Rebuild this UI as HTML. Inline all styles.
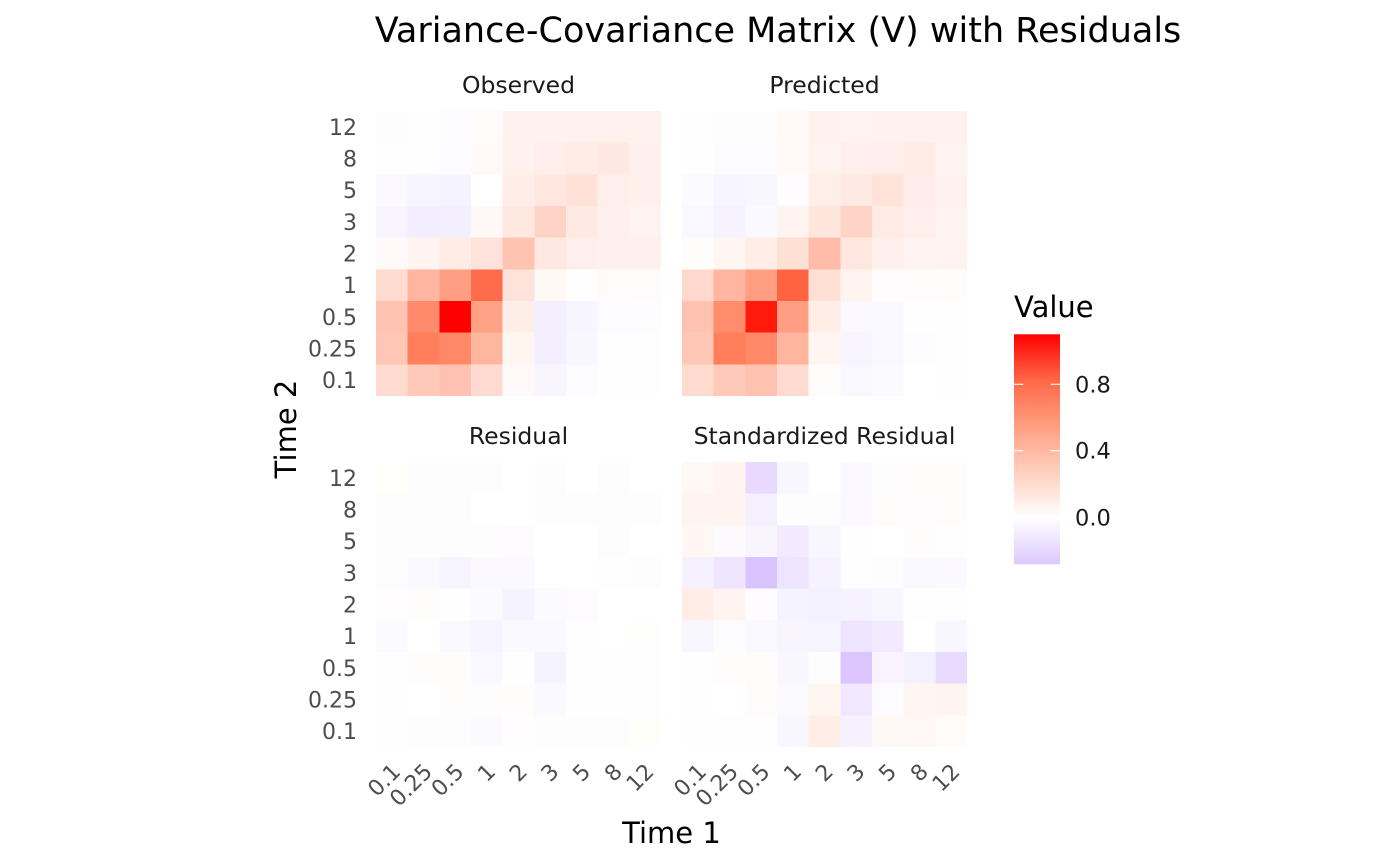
<!DOCTYPE html>
<html><head><meta charset="utf-8"><style>
html,body{margin:0;padding:0;background:#fff;}
svg{display:block;}
text{font-family:"DejaVu Sans","Liberation Sans",sans-serif;}
.yt{font-size:22px;fill:#4D4D4D;text-anchor:end;}
.xt{font-size:22px;fill:#4D4D4D;text-anchor:end;}
.st{font-size:23.5px;fill:#1A1A1A;text-anchor:middle;}
</style></head><body>
<svg width="1400" height="865" viewBox="0 0 1400 865" xmlns="http://www.w3.org/2000/svg">
<defs>
<linearGradient id="lg" x1="0" y1="0" x2="0" y2="1">
<stop offset="0" stop-color="#FF0000"/>
<stop offset="0.199" stop-color="#FF6746"/>
<stop offset="0.398" stop-color="#FF9E81"/>
<stop offset="0.597" stop-color="#FFCFBE"/>
<stop offset="0.796" stop-color="#FFFFFF"/>
<stop offset="0.897" stop-color="#EEE4FF"/>
<stop offset="1" stop-color="#DCC8FF"/>
</linearGradient>
</defs>
<rect width="1400" height="865" fill="#fff"/>
<text x="778" y="42" font-size="35" text-anchor="middle" fill="#000">Variance-Covariance Matrix (V) with Residuals</text>

<!-- Observed -->
<g transform="translate(376,111)" shape-rendering="crispEdges">
<g><rect x="0" width="32" height="32" fill="#FEFDFE"/><rect x="31.67" width="32" height="32" fill="#FEFEFE"/><rect x="63.33" width="32" height="32" fill="#FCFCFF"/><rect x="95" width="32" height="32" fill="#FFFBFA"/><rect x="126.67" width="32" height="32" fill="#FFF2EE"/><rect x="158.33" width="32" height="32" fill="#FFF2EE"/><rect x="190" width="32" height="32" fill="#FFF1ED"/><rect x="221.67" width="32" height="32" fill="#FFF1EC"/><rect x="253.33" width="31.67" height="32" fill="#FFF1EC"/></g>
<g transform="translate(0,31.67)"><rect x="0" width="32" height="32" fill="#FEFDFF"/><rect x="31.67" width="32" height="32" fill="#FEFEFE"/><rect x="63.33" width="32" height="32" fill="#FCFBFF"/><rect x="95" width="32" height="32" fill="#FFFAF9"/><rect x="126.67" width="32" height="32" fill="#FFF1EC"/><rect x="158.33" width="32" height="32" fill="#FFEEEA"/><rect x="190" width="32" height="32" fill="#FFECE6"/><rect x="221.67" width="32" height="32" fill="#FFE8E1"/><rect x="253.33" width="31.67" height="32" fill="#FFF0EB"/></g>
<g transform="translate(0,63.33)"><rect x="0" width="32" height="32" fill="#FBF9FF"/><rect x="31.67" width="32" height="32" fill="#F6F4FF"/><rect x="63.33" width="32" height="32" fill="#F5F3FF"/><rect x="95" width="32" height="32" fill="#FFFFFF"/><rect x="126.67" width="32" height="32" fill="#FFEDE7"/><rect x="158.33" width="32" height="32" fill="#FFE7E0"/><rect x="190" width="32" height="32" fill="#FFE1D8"/><rect x="221.67" width="32" height="32" fill="#FFEFEA"/><rect x="253.33" width="31.67" height="32" fill="#FFF0EB"/></g>
<g transform="translate(0,95)"><rect x="0" width="32" height="32" fill="#F7F4FF"/><rect x="31.67" width="32" height="32" fill="#F2EEFF"/><rect x="63.33" width="32" height="32" fill="#F3EFFF"/><rect x="95" width="32" height="32" fill="#FFF8F5"/><rect x="126.67" width="32" height="32" fill="#FFE8E0"/><rect x="158.33" width="32" height="32" fill="#FED3C5"/><rect x="190" width="32" height="32" fill="#FFEAE3"/><rect x="221.67" width="32" height="32" fill="#FFF0EC"/><rect x="253.33" width="31.67" height="32" fill="#FFF3EF"/></g>
<g transform="translate(0,126.67)"><rect x="0" width="32" height="32" fill="#FFFAF9"/><rect x="31.67" width="32" height="32" fill="#FFF4EF"/><rect x="63.33" width="32" height="32" fill="#FFECE5"/><rect x="95" width="32" height="32" fill="#FFE3DA"/><rect x="126.67" width="32" height="32" fill="#FFC3B1"/><rect x="158.33" width="32" height="32" fill="#FFE8E1"/><rect x="190" width="32" height="32" fill="#FFEFEB"/><rect x="221.67" width="32" height="32" fill="#FFF0EC"/><rect x="253.33" width="31.67" height="32" fill="#FFF0EC"/></g>
<g transform="translate(0,158.33)"><rect x="0" width="32" height="32" fill="#FFDBD0"/><rect x="31.67" width="32" height="32" fill="#FFB59F"/><rect x="63.33" width="32" height="32" fill="#FF9E82"/><rect x="95" width="32" height="32" fill="#FF6B4B"/><rect x="126.67" width="32" height="32" fill="#FFE2D9"/><rect x="158.33" width="32" height="32" fill="#FFF9F6"/><rect x="190" width="32" height="32" fill="#FEFEFF"/><rect x="221.67" width="32" height="32" fill="#FFFBFA"/><rect x="253.33" width="31.67" height="32" fill="#FFFBFA"/></g>
<g transform="translate(0,190)"><rect x="0" width="32" height="32" fill="#FFC3B1"/><rect x="31.67" width="32" height="32" fill="#FF8B6C"/><rect x="63.33" width="32" height="32" fill="#FF0000"/><rect x="95" width="32" height="32" fill="#FFA185"/><rect x="126.67" width="32" height="32" fill="#FFEEE8"/><rect x="158.33" width="32" height="32" fill="#F3EFFF"/><rect x="190" width="32" height="32" fill="#F7F5FF"/><rect x="221.67" width="32" height="32" fill="#FCFBFF"/><rect x="253.33" width="31.67" height="32" fill="#FDFCFF"/></g>
<g transform="translate(0,221.67)"><rect x="0" width="32" height="32" fill="#FFC5B5"/><rect x="31.67" width="32" height="32" fill="#FF7E5C"/><rect x="63.33" width="32" height="32" fill="#FF8868"/><rect x="95" width="32" height="32" fill="#FFB69F"/><rect x="126.67" width="32" height="32" fill="#FFF6F1"/><rect x="158.33" width="32" height="32" fill="#F3EFFF"/><rect x="190" width="32" height="32" fill="#F8F6FF"/><rect x="221.67" width="32" height="32" fill="#FEFEFE"/><rect x="253.33" width="31.67" height="32" fill="#FEFEFE"/></g>
<g transform="translate(0,253.33)"><rect x="0" width="32" height="31.67" fill="#FFDAD0"/><rect x="31.67" width="32" height="31.67" fill="#FFC9B9"/><rect x="63.33" width="32" height="31.67" fill="#FFC2B2"/><rect x="95" width="32" height="31.67" fill="#FFDAD0"/><rect x="126.67" width="32" height="31.67" fill="#FFFAF9"/><rect x="158.33" width="32" height="31.67" fill="#F8F5FF"/><rect x="190" width="32" height="31.67" fill="#FCFBFF"/><rect x="221.67" width="32" height="31.67" fill="#FEFEFE"/><rect x="253.33" width="31.67" height="31.67" fill="#FEFEFE"/></g>
</g>

<!-- Predicted -->
<g transform="translate(682,111)" shape-rendering="crispEdges">
<g><rect x="0" width="32" height="32" fill="#FEFDFF"/><rect x="31.67" width="32" height="32" fill="#FEFDFE"/><rect x="63.33" width="32" height="32" fill="#FEFDFE"/><rect x="95" width="32" height="32" fill="#FFFAF7"/><rect x="126.67" width="32" height="32" fill="#FFF2EE"/><rect x="158.33" width="32" height="32" fill="#FFF3EF"/><rect x="190" width="32" height="32" fill="#FFF2EE"/><rect x="221.67" width="32" height="32" fill="#FFF2EE"/><rect x="253.33" width="31.67" height="32" fill="#FFF2EE"/></g>
<g transform="translate(0,31.67)"><rect x="0" width="32" height="32" fill="#FEFDFF"/><rect x="31.67" width="32" height="32" fill="#FCFBFF"/><rect x="63.33" width="32" height="32" fill="#FCFBFE"/><rect x="95" width="32" height="32" fill="#FFFAF9"/><rect x="126.67" width="32" height="32" fill="#FFF3EE"/><rect x="158.33" width="32" height="32" fill="#FFEFEB"/><rect x="190" width="32" height="32" fill="#FFEEEA"/><rect x="221.67" width="32" height="32" fill="#FFECE6"/><rect x="253.33" width="31.67" height="32" fill="#FFF3EF"/></g>
<g transform="translate(0,63.33)"><rect x="0" width="32" height="32" fill="#FBFAFF"/><rect x="31.67" width="32" height="32" fill="#F7F5FF"/><rect x="63.33" width="32" height="32" fill="#F8F6FF"/><rect x="95" width="32" height="32" fill="#FEFCFE"/><rect x="126.67" width="32" height="32" fill="#FFEFE8"/><rect x="158.33" width="32" height="32" fill="#FFE9E3"/><rect x="190" width="32" height="32" fill="#FFE3DB"/><rect x="221.67" width="32" height="32" fill="#FFEDE9"/><rect x="253.33" width="31.67" height="32" fill="#FFF2EE"/></g>
<g transform="translate(0,95)"><rect x="0" width="32" height="32" fill="#F9F7FF"/><rect x="31.67" width="32" height="32" fill="#F6F3FF"/><rect x="63.33" width="32" height="32" fill="#FAF9FF"/><rect x="95" width="32" height="32" fill="#FFF4F0"/><rect x="126.67" width="32" height="32" fill="#FFE6DD"/><rect x="158.33" width="32" height="32" fill="#FED4C6"/><rect x="190" width="32" height="32" fill="#FFEAE4"/><rect x="221.67" width="32" height="32" fill="#FFEEEA"/><rect x="253.33" width="31.67" height="32" fill="#FFF3EF"/></g>
<g transform="translate(0,126.67)"><rect x="0" width="32" height="32" fill="#FFFDFB"/><rect x="31.67" width="32" height="32" fill="#FFF6F1"/><rect x="63.33" width="32" height="32" fill="#FFEDE6"/><rect x="95" width="32" height="32" fill="#FFE0D5"/><rect x="126.67" width="32" height="32" fill="#FFBCA8"/><rect x="158.33" width="32" height="32" fill="#FFE6DF"/><rect x="190" width="32" height="32" fill="#FFF0EB"/><rect x="221.67" width="32" height="32" fill="#FFF4F1"/><rect x="253.33" width="31.67" height="32" fill="#FFF2EF"/></g>
<g transform="translate(0,158.33)"><rect x="0" width="32" height="32" fill="#FFD9CE"/><rect x="31.67" width="32" height="32" fill="#FFB59F"/><rect x="63.33" width="32" height="32" fill="#FF9E83"/><rect x="95" width="32" height="32" fill="#FF6342"/><rect x="126.67" width="32" height="32" fill="#FFE0D5"/><rect x="158.33" width="32" height="32" fill="#FFF4F0"/><rect x="190" width="32" height="32" fill="#FFFCFD"/><rect x="221.67" width="32" height="32" fill="#FFFCFB"/><rect x="253.33" width="31.67" height="32" fill="#FFFDFB"/></g>
<g transform="translate(0,190)"><rect x="0" width="32" height="32" fill="#FFC2B1"/><rect x="31.67" width="32" height="32" fill="#FF8C6D"/><rect x="63.33" width="32" height="32" fill="#FF1A0B"/><rect x="95" width="32" height="32" fill="#FF9E82"/><rect x="126.67" width="32" height="32" fill="#FFEDE6"/><rect x="158.33" width="32" height="32" fill="#FBF9FF"/><rect x="190" width="32" height="32" fill="#F9F7FF"/><rect x="221.67" width="32" height="32" fill="#FEFDFF"/><rect x="253.33" width="31.67" height="32" fill="#FEFEFE"/></g>
<g transform="translate(0,221.67)"><rect x="0" width="32" height="32" fill="#FFC7B6"/><rect x="31.67" width="32" height="32" fill="#FF7E5C"/><rect x="63.33" width="32" height="32" fill="#FF8968"/><rect x="95" width="32" height="32" fill="#FFB59E"/><rect x="126.67" width="32" height="32" fill="#FFF6F2"/><rect x="158.33" width="32" height="32" fill="#F7F4FF"/><rect x="190" width="32" height="32" fill="#F9F7FF"/><rect x="221.67" width="32" height="32" fill="#FDFCFF"/><rect x="253.33" width="31.67" height="32" fill="#FEFEFE"/></g>
<g transform="translate(0,253.33)"><rect x="0" width="32" height="31.67" fill="#FFDACF"/><rect x="31.67" width="32" height="31.67" fill="#FFC9B9"/><rect x="63.33" width="32" height="31.67" fill="#FFC1B0"/><rect x="95" width="32" height="31.67" fill="#FFDACF"/><rect x="126.67" width="32" height="31.67" fill="#FEFDFB"/><rect x="158.33" width="32" height="31.67" fill="#FAF8FF"/><rect x="190" width="32" height="31.67" fill="#FBFAFF"/><rect x="221.67" width="32" height="31.67" fill="#FFFFFF"/><rect x="253.33" width="31.67" height="31.67" fill="#FEFEFE"/></g>
</g>

<!-- Residual -->
<g transform="translate(376,462)" shape-rendering="crispEdges">
<g><rect x="0" width="32" height="32" fill="#FFFFFC"/><rect x="31.67" width="32" height="32" fill="#FDFDFE"/><rect x="63.33" width="32" height="32" fill="#FDFDFE"/><rect x="95" width="32" height="32" fill="#FDFDFD"/><rect x="126.67" width="32" height="32" fill="#FFFFFF"/><rect x="158.33" width="32" height="32" fill="#FDFDFE"/><rect x="190" width="32" height="32" fill="#FFFFFF"/><rect x="221.67" width="32" height="32" fill="#FDFDFD"/><rect x="253.33" width="31.67" height="32" fill="#FFFFFF"/></g>
<g transform="translate(0,31.67)"><rect x="0" width="32" height="32" fill="#FDFDFE"/><rect x="31.67" width="32" height="32" fill="#FDFDFE"/><rect x="63.33" width="32" height="32" fill="#FDFDFE"/><rect x="95" width="32" height="32" fill="#FFFFFF"/><rect x="126.67" width="32" height="32" fill="#FFFFFF"/><rect x="158.33" width="32" height="32" fill="#FDFDFE"/><rect x="190" width="32" height="32" fill="#FDFDFD"/><rect x="221.67" width="32" height="32" fill="#FDFDFE"/><rect x="253.33" width="31.67" height="32" fill="#FDFDFD"/></g>
<g transform="translate(0,63.33)"><rect x="0" width="32" height="32" fill="#FDFDFE"/><rect x="31.67" width="32" height="32" fill="#FDFDFE"/><rect x="63.33" width="32" height="32" fill="#FDFDFE"/><rect x="95" width="32" height="32" fill="#FEFDFE"/><rect x="126.67" width="32" height="32" fill="#FDFBFE"/><rect x="158.33" width="32" height="32" fill="#FFFFFF"/><rect x="190" width="32" height="32" fill="#FFFFFF"/><rect x="221.67" width="32" height="32" fill="#FDFDFD"/><rect x="253.33" width="31.67" height="32" fill="#FFFFFF"/></g>
<g transform="translate(0,95)"><rect x="0" width="32" height="32" fill="#FDFDFE"/><rect x="31.67" width="32" height="32" fill="#FAF9FF"/><rect x="63.33" width="32" height="32" fill="#F6F4FF"/><rect x="95" width="32" height="32" fill="#FBF9FF"/><rect x="126.67" width="32" height="32" fill="#FBF9FF"/><rect x="158.33" width="32" height="32" fill="#FFFFFF"/><rect x="190" width="32" height="32" fill="#FFFFFF"/><rect x="221.67" width="32" height="32" fill="#FEFEFE"/><rect x="253.33" width="31.67" height="32" fill="#FDFDFD"/></g>
<g transform="translate(0,126.67)"><rect x="0" width="32" height="32" fill="#FFFDFD"/><rect x="31.67" width="32" height="32" fill="#FEFDFB"/><rect x="63.33" width="32" height="32" fill="#FEFEFE"/><rect x="95" width="32" height="32" fill="#FBFAFF"/><rect x="126.67" width="32" height="32" fill="#F5F3FF"/><rect x="158.33" width="32" height="32" fill="#FBFAFF"/><rect x="190" width="32" height="32" fill="#FDFBFE"/><rect x="221.67" width="32" height="32" fill="#FFFFFF"/><rect x="253.33" width="31.67" height="32" fill="#FFFFFF"/></g>
<g transform="translate(0,158.33)"><rect x="0" width="32" height="32" fill="#FBFAFF"/><rect x="31.67" width="32" height="32" fill="#FFFFFF"/><rect x="63.33" width="32" height="32" fill="#F9F8FF"/><rect x="95" width="32" height="32" fill="#F5F4FF"/><rect x="126.67" width="32" height="32" fill="#FAF9FF"/><rect x="158.33" width="32" height="32" fill="#FAF9FF"/><rect x="190" width="32" height="32" fill="#FEFEFE"/><rect x="221.67" width="32" height="32" fill="#FFFFFF"/><rect x="253.33" width="31.67" height="32" fill="#FEFEFD"/></g>
<g transform="translate(0,190)"><rect x="0" width="32" height="32" fill="#FEFEFE"/><rect x="31.67" width="32" height="32" fill="#FEFDFB"/><rect x="63.33" width="32" height="32" fill="#FFFCFB"/><rect x="95" width="32" height="32" fill="#F9F7FF"/><rect x="126.67" width="32" height="32" fill="#FEFEFE"/><rect x="158.33" width="32" height="32" fill="#F5F3FF"/><rect x="190" width="32" height="32" fill="#FEFEFF"/><rect x="221.67" width="32" height="32" fill="#FEFEFF"/><rect x="253.33" width="31.67" height="32" fill="#FEFEFF"/></g>
<g transform="translate(0,221.67)"><rect x="0" width="32" height="32" fill="#FEFEFE"/><rect x="31.67" width="32" height="32" fill="#FFFFFF"/><rect x="63.33" width="32" height="32" fill="#FEFDFB"/><rect x="95" width="32" height="32" fill="#FDFDFE"/><rect x="126.67" width="32" height="32" fill="#FEFDFB"/><rect x="158.33" width="32" height="32" fill="#FAF9FF"/><rect x="190" width="32" height="32" fill="#FEFEFE"/><rect x="221.67" width="32" height="32" fill="#FEFEFE"/><rect x="253.33" width="31.67" height="32" fill="#FEFEFE"/></g>
<g transform="translate(0,253.33)"><rect x="0" width="32" height="31.67" fill="#FEFEFE"/><rect x="31.67" width="32" height="31.67" fill="#FDFDFE"/><rect x="63.33" width="32" height="31.67" fill="#FDFDFE"/><rect x="95" width="32" height="31.67" fill="#FBFAFF"/><rect x="126.67" width="32" height="31.67" fill="#FFFDFD"/><rect x="158.33" width="32" height="31.67" fill="#FDFDFE"/><rect x="190" width="32" height="31.67" fill="#FDFDFE"/><rect x="221.67" width="32" height="31.67" fill="#FDFDFE"/><rect x="253.33" width="31.67" height="31.67" fill="#FFFFFA"/></g>
</g>

<!-- Standardized Residual -->
<g transform="translate(682,462)" shape-rendering="crispEdges">
<g><rect x="0" width="32" height="32" fill="#FFF8F5"/><rect x="31.67" width="32" height="32" fill="#FFF4EF"/><rect x="63.33" width="32" height="32" fill="#EAD9FF"/><rect x="95" width="32" height="32" fill="#F8F6FF"/><rect x="126.67" width="32" height="32" fill="#FFFFFF"/><rect x="158.33" width="32" height="32" fill="#FBF9FF"/><rect x="190" width="32" height="32" fill="#FDFDFE"/><rect x="221.67" width="32" height="32" fill="#FEFDFB"/><rect x="253.33" width="31.67" height="32" fill="#FFFDFB"/></g>
<g transform="translate(0,31.67)"><rect x="0" width="32" height="32" fill="#FFF4EF"/><rect x="31.67" width="32" height="32" fill="#FFF4EF"/><rect x="63.33" width="32" height="32" fill="#F4F0FF"/><rect x="95" width="32" height="32" fill="#FDFDFE"/><rect x="126.67" width="32" height="32" fill="#FDFDFE"/><rect x="158.33" width="32" height="32" fill="#FBF9FF"/><rect x="190" width="32" height="32" fill="#FEFCFB"/><rect x="221.67" width="32" height="32" fill="#FFFCFD"/><rect x="253.33" width="31.67" height="32" fill="#FEFDFB"/></g>
<g transform="translate(0,63.33)"><rect x="0" width="32" height="32" fill="#FFF7F3"/><rect x="31.67" width="32" height="32" fill="#FCFAFF"/><rect x="63.33" width="32" height="32" fill="#F9F5FF"/><rect x="95" width="32" height="32" fill="#F3EAFF"/><rect x="126.67" width="32" height="32" fill="#F8F6FF"/><rect x="158.33" width="32" height="32" fill="#FEFEFE"/><rect x="190" width="32" height="32" fill="#FFFFFF"/><rect x="221.67" width="32" height="32" fill="#FEFDFB"/><rect x="253.33" width="31.67" height="32" fill="#FEFEFE"/></g>
<g transform="translate(0,95)"><rect x="0" width="32" height="32" fill="#F6F1FF"/><rect x="31.67" width="32" height="32" fill="#EFE5FF"/><rect x="63.33" width="32" height="32" fill="#DAC4FF"/><rect x="95" width="32" height="32" fill="#EEE4FF"/><rect x="126.67" width="32" height="32" fill="#F6F2FF"/><rect x="158.33" width="32" height="32" fill="#FEFEFE"/><rect x="190" width="32" height="32" fill="#FDFDFE"/><rect x="221.67" width="32" height="32" fill="#FAF8FF"/><rect x="253.33" width="31.67" height="32" fill="#FBF9FF"/></g>
<g transform="translate(0,126.67)"><rect x="0" width="32" height="32" fill="#FFEDE6"/><rect x="31.67" width="32" height="32" fill="#FFF4EF"/><rect x="63.33" width="32" height="32" fill="#FEFCFF"/><rect x="95" width="32" height="32" fill="#F4F3FF"/><rect x="126.67" width="32" height="32" fill="#F4F1FF"/><rect x="158.33" width="32" height="32" fill="#F6F2FF"/><rect x="190" width="32" height="32" fill="#F8F6FF"/><rect x="221.67" width="32" height="32" fill="#FEFEFE"/><rect x="253.33" width="31.67" height="32" fill="#FEFEFE"/></g>
<g transform="translate(0,158.33)"><rect x="0" width="32" height="32" fill="#F8F6FF"/><rect x="31.67" width="32" height="32" fill="#FCFCFF"/><rect x="63.33" width="32" height="32" fill="#F9F8FF"/><rect x="95" width="32" height="32" fill="#F9F5FF"/><rect x="126.67" width="32" height="32" fill="#F6F4FF"/><rect x="158.33" width="32" height="32" fill="#EEE4FF"/><rect x="190" width="32" height="32" fill="#F4EAFF"/><rect x="221.67" width="32" height="32" fill="#FFFFFF"/><rect x="253.33" width="31.67" height="32" fill="#F8F6FF"/></g>
<g transform="translate(0,190)"><rect x="0" width="32" height="32" fill="#FEFEFE"/><rect x="31.67" width="32" height="32" fill="#FFFCFB"/><rect x="63.33" width="32" height="32" fill="#FFFBF8"/><rect x="95" width="32" height="32" fill="#F8F6FF"/><rect x="126.67" width="32" height="32" fill="#FEFDFE"/><rect x="158.33" width="32" height="32" fill="#DCC5FF"/><rect x="190" width="32" height="32" fill="#F8F3FF"/><rect x="221.67" width="32" height="32" fill="#F4F1FF"/><rect x="253.33" width="31.67" height="32" fill="#EADAFF"/></g>
<g transform="translate(0,221.67)"><rect x="0" width="32" height="32" fill="#FEFEFE"/><rect x="31.67" width="32" height="32" fill="#FFFFFF"/><rect x="63.33" width="32" height="32" fill="#FFFBFA"/><rect x="95" width="32" height="32" fill="#FBFBFF"/><rect x="126.67" width="32" height="32" fill="#FFF6F0"/><rect x="158.33" width="32" height="32" fill="#F1E8FF"/><rect x="190" width="32" height="32" fill="#FCFBFF"/><rect x="221.67" width="32" height="32" fill="#FFF5F2"/><rect x="253.33" width="31.67" height="32" fill="#FFF5F0"/></g>
<g transform="translate(0,253.33)"><rect x="0" width="32" height="31.67" fill="#FEFEFE"/><rect x="31.67" width="32" height="31.67" fill="#FEFEFE"/><rect x="63.33" width="32" height="31.67" fill="#FEFEFE"/><rect x="95" width="32" height="31.67" fill="#F8F6FF"/><rect x="126.67" width="32" height="31.67" fill="#FFEEE6"/><rect x="158.33" width="32" height="31.67" fill="#F6F0FF"/><rect x="190" width="32" height="31.67" fill="#FFF9F6"/><rect x="221.67" width="32" height="31.67" fill="#FFF8F6"/><rect x="253.33" width="31.67" height="31.67" fill="#FFFBF8"/></g>
</g>

<!-- strip labels -->
<text class="st" x="518.5" y="93">Observed</text>
<text class="st" x="824.5" y="93">Predicted</text>
<text class="st" x="518.5" y="444">Residual</text>
<text class="st" x="824.5" y="444">Standardized Residual</text>

<!-- y tick labels top -->
<text class="yt" x="357" y="134.8">12</text>
<text class="yt" x="357" y="166.5">8</text>
<text class="yt" x="357" y="198.2">5</text>
<text class="yt" x="357" y="229.8">3</text>
<text class="yt" x="357" y="261.5">2</text>
<text class="yt" x="357" y="293.2">1</text>
<text class="yt" x="357" y="324.8">0.5</text>
<text class="yt" x="357" y="356.5">0.25</text>
<text class="yt" x="357" y="388.2">0.1</text>
<!-- y tick labels bottom -->
<text class="yt" x="357" y="485.8">12</text>
<text class="yt" x="357" y="517.5">8</text>
<text class="yt" x="357" y="549.2">5</text>
<text class="yt" x="357" y="580.8">3</text>
<text class="yt" x="357" y="612.5">2</text>
<text class="yt" x="357" y="644.2">1</text>
<text class="yt" x="357" y="675.8">0.5</text>
<text class="yt" x="357" y="707.5">0.25</text>
<text class="yt" x="357" y="739.2">0.1</text>

<!-- x tick labels -->
<text class="xt" transform="translate(401.8,773) rotate(-45)">0.1</text>
<text class="xt" transform="translate(433.5,773) rotate(-45)">0.25</text>
<text class="xt" transform="translate(465.2,773) rotate(-45)">0.5</text>
<text class="xt" transform="translate(496.8,773) rotate(-45)">1</text>
<text class="xt" transform="translate(528.5,773) rotate(-45)">2</text>
<text class="xt" transform="translate(560.2,773) rotate(-45)">3</text>
<text class="xt" transform="translate(591.8,773) rotate(-45)">5</text>
<text class="xt" transform="translate(623.5,773) rotate(-45)">8</text>
<text class="xt" transform="translate(655.2,773) rotate(-45)">12</text>
<text class="xt" transform="translate(707.8,773) rotate(-45)">0.1</text>
<text class="xt" transform="translate(739.5,773) rotate(-45)">0.25</text>
<text class="xt" transform="translate(771.2,773) rotate(-45)">0.5</text>
<text class="xt" transform="translate(802.8,773) rotate(-45)">1</text>
<text class="xt" transform="translate(834.5,773) rotate(-45)">2</text>
<text class="xt" transform="translate(866.2,773) rotate(-45)">3</text>
<text class="xt" transform="translate(897.8,773) rotate(-45)">5</text>
<text class="xt" transform="translate(929.5,773) rotate(-45)">8</text>
<text class="xt" transform="translate(961.2,773) rotate(-45)">12</text>

<!-- axis titles -->
<text x="671.5" y="843" font-size="29" text-anchor="middle" fill="#000">Time 1</text>
<text transform="translate(296,429) rotate(-90)" font-size="29" text-anchor="middle" fill="#000">Time 2</text>

<!-- legend -->
<text x="1014" y="317" font-size="29" fill="#000">Value</text>
<rect x="1014" y="334.3" width="46" height="230" fill="url(#lg)"/>
<g stroke="#FFFFFF" stroke-width="1.2" opacity="0.9">
<line x1="1014" y1="384.3" x2="1023.3" y2="384.3"/><line x1="1050.7" y1="384.3" x2="1060" y2="384.3"/>
<line x1="1014" y1="450.7" x2="1023.3" y2="450.7"/><line x1="1050.7" y1="450.7" x2="1060" y2="450.7"/>
<line x1="1014" y1="517.3" x2="1023.3" y2="517.3"/><line x1="1050.7" y1="517.3" x2="1060" y2="517.3"/>
</g>
<text x="1075" y="392.3" font-size="22.5" fill="#1A1A1A">0.8</text>
<text x="1075" y="458.7" font-size="22.5" fill="#1A1A1A">0.4</text>
<text x="1075" y="525.3" font-size="22.5" fill="#1A1A1A">0.0</text>
</svg>
</body></html>
